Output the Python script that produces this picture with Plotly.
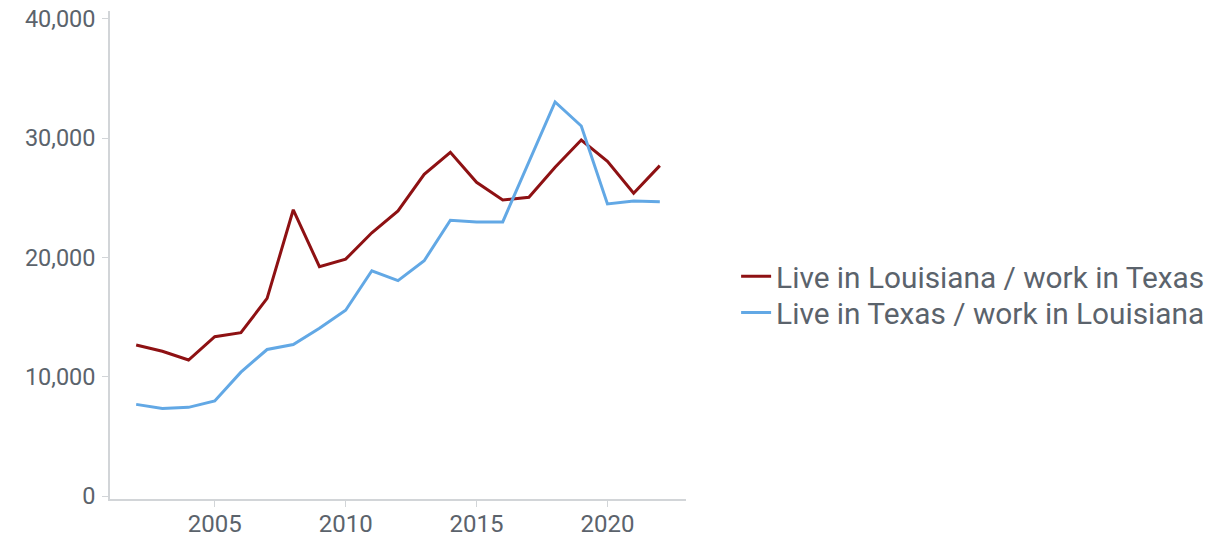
import plotly.graph_objects as go

years = list(range(2002, 2023))
la_to_tx = [12650, 12130, 11400, 13350, 13690, 16560, 23990, 19220, 19850, 22060, 23900,
            26960, 28810, 26290, 24810, 25040, 27550, 29840, 28050, 25370, 27690]
tx_to_la = [7680, 7340, 7430, 7970, 10380, 12280, 12700, 14060, 15570, 18880, 18050,
            19720, 23110, 22970, 22970, 28020, 33030, 31010, 24480, 24730, 24670]
series_names = ["Live in Louisiana / work in Texas", "Live in Texas / work in Louisiana"]
y_ticks = [0, 10000, 20000, 30000, 40000]
x_ticks = [2005, 2010, 2015, 2020]

font_family = "Roboto, Inter, sans-serif"
text_color = "#5b636c"
axis_color = "#d2d5d8"
legend_font = dict(size=29.8, color=text_color, family=font_family)
clear = "rgba(0,0,0,0)"

fig = go.Figure()
fig.add_trace(go.Scatter(x=years, y=la_to_tx, mode="lines", name=series_names[0],
                         line=dict(color="#8e1113", width=3), legend="legend"))
fig.add_trace(go.Scatter(x=years, y=tx_to_la, mode="lines", name=series_names[1],
                         line=dict(color="#62a8e5", width=3), legend="legend2"))

fig.update_layout(
    width=1224, height=536,
    margin=dict(l=102, r=546, t=3, b=45, autoexpand=False),
    paper_bgcolor="white", plot_bgcolor="white",
    font=dict(family=font_family, color=text_color, size=24),
    showlegend=True,
    legend=dict(x=1.087, y=0.456, xanchor="left", yanchor="middle", font=legend_font,
                bgcolor=clear),
    legend2=dict(x=1.087, y=0.382, xanchor="left", yanchor="middle", font=legend_font,
                 bgcolor=clear),
    xaxis=dict(range=[2001, 2023], tickvals=x_ticks, showgrid=False, zeroline=False,
               showline=True, linecolor=axis_color, linewidth=1.5, automargin=False,
               ticks="outside", ticklen=6, tickcolor=axis_color, ticklabelstandoff=-4,
               tickfont=dict(size=24, color=text_color)),
    yaxis=dict(range=[-250, 40650], tickvals=y_ticks, tickformat=",", showgrid=False,
               zeroline=False, showline=True, linecolor=axis_color, linewidth=1.5,
               ticks="outside", ticklen=6, tickcolor=axis_color, ticklabelstandoff=2,
               ticklabeloverflow="allow", automargin=False,
               tickfont=dict(size=23.5, color=text_color)),
)

fig.write_html("out.html")
